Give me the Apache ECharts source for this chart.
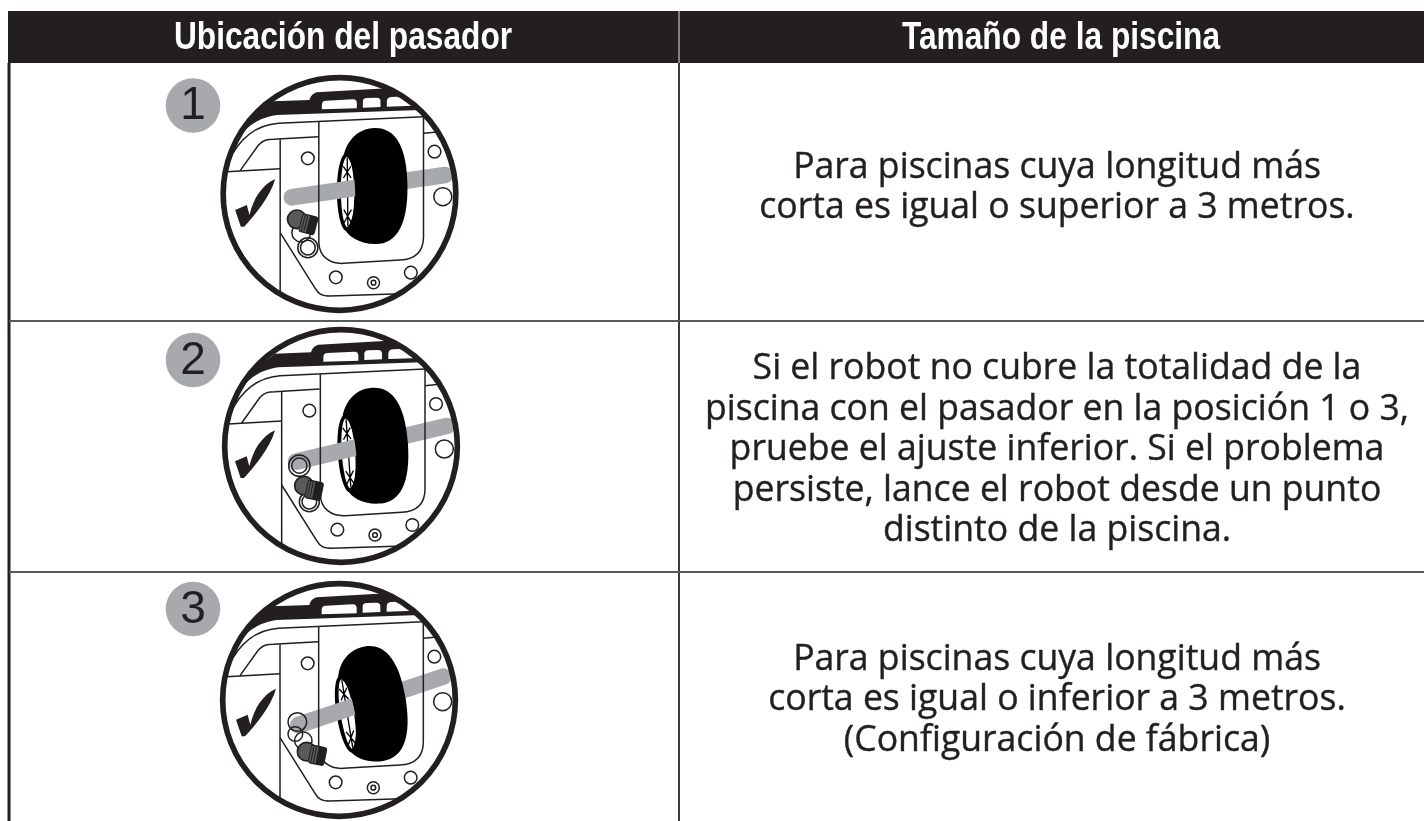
<!DOCTYPE html>
<html>
<head>
<meta charset="utf-8">
<title>Ubicación del pasador</title>
<style>
  html, body { margin: 0; padding: 0; background: #fff; }
  #chart { width: 1424px; height: 821px; }
</style>
<script src="https://cdn.jsdelivr.net/npm/echarts@6/dist/echarts.min.js"></script>
</head>
<body>
<div id="chart"></div>
<script>
const headers = ["Ubicación del pasador", "Tamaño de la piscina"];
const rowNumbers = ["1", "2", "3"];
const row1Lines = ["Para piscinas cuya longitud más", "corta es igual o superior a 3 metros."];
const row2Lines = [
    "Si el robot no cubre la totalidad de la",
    "piscina con el pasador en la posición 1 o 3,",
    "pruebe el ajuste inferior. Si el problema",
    "persiste, lance el robot desde un punto",
    "distinto de la piscina."
];
const row3Lines = [
    "Para piscinas cuya longitud más",
    "corta es igual o inferior a 3 metros.",
    "(Configuración de fábrica)"
];
const rowTexts = [row1Lines, row2Lines, row3Lines];

// layout of the table
const INK = "#231f20";
const GREY = "#a7a9ac";
const TOP = 11, HEAD_BOTTOM = 63, LEFT = 9, DIVIDER = 679;
const ROW_LINES = [321, 572];
const TEXT_FIRST_Y = [167.5, 369, 659.7];
const TEXT_CENTER = 1057, TEXT_STEP = 40.4;

// each illustration is drawn in 3x pixels, the numbers are taken from zoomed crops
// crop is the circle centre inside that row's crop
const POSES = [
    {
        cx: 339.5, cy: 194, crop: [358, 402], numberY: 105.5, body: [0, 0], check: [0, 0],
        bar: [215, 412, 675, 345], wheel: [466, 378, 0.01],
        knob: [230, 478], cap: [265, 492, -0.25],
        rings: [[243, 518, 28], [263, 563, 30], [263, 563, 22]]
    },
    {
        cx: 341, cy: 446, crop: [363, 378], numberY: 360, body: [5, -23], check: [0, -26],
        bar: [228, 425, 680, 318], wheel: [468, 377, 0.07],
        knob: [252, 497], cap: [283, 510, -0.2],
        rings: [[238, 437, 32], [238, 437, 23], [268, 545, 30], [268, 545, 22]]
    },
    {
        cx: 339, cy: 700, crop: [357, 360], numberY: 609, body: [0, -45], check: [3, -31],
        bar: [235, 435, 670, 290], wheel: [462, 371, 0.16],
        knob: [260, 515], cap: [293, 525, -0.2],
        rings: [[232, 426, 28], [226, 462, 22], [250, 482, 26]]
    }
];

const BAND = "M20,285 C60,215 100,175 170,165 L600,150 L640,140 L560,100 L500,85 L290,97 C278,100 270,110 268,120 L160,124 L20,230 Z";
const WINDOWS = [
    "M305,148 L305,135 Q305,122 318,122 L398,118 Q410,118 410,130 L410,145 Z",
    "M428,143 L428,125 Q428,114 440,114 L470,113 Q481,113 481,124 L481,141 Z",
    "M500,140 L500,125 Q500,111 515,111 L620,105 L620,136 Z"
];
const BODY_LINES = [
    "M25,305 C60,230 110,195 175,190 L610,170",
    "M296,186 L296,545 C296,590 330,612 370,610 L540,600 C590,597 610,570 610,530 L610,170",
    "M60,332 L115,255 C130,240 140,238 160,238 L294,230",
    "M20,335 L180,326",
    "M180,238 L180,730",
    "M180,518 L285,685 C295,702 305,708 330,708 L640,698",
    "M610,220 L660,215"
];
const BODY_HOLES = [[643, 275, 19], [263, 295, 19], [668, 410, 27], [347, 652, 19], [572, 638, 19], [460, 668, 18], [460, 668, 7]];
const CHECK = "M165,357 C125,375 100,415 88,465 L80,435 L45,450 L62,500 L72,500 C105,465 150,410 165,357 Z";
const TREAD = "M0,-174 C-55,-174 -88,-130 -95,-88 C-75,-100 -61,-40 -61,15 C-61,70 -75,130 -95,125 C-85,150 -50,174 0,174 C60,174 96,120 96,0 C96,-120 60,-174 0,-174 Z";
const SPOKES = "M-84,-85 L-84,120 M-96,-60 L-73,-25 M-73,-60 L-96,-25 M-96,70 L-73,110 M-73,70 L-96,110";

function path(d, fill, stroke, width) {
    return { type: "path", shape: { pathData: d }, style: { fill: fill || "none", stroke: stroke || "none", lineWidth: width || 0 } };
}

function hole(h, fill) {
    return { type: "circle", shape: { cx: h[0], cy: h[1], r: h[2] }, style: { fill: fill || "none", stroke: INK, lineWidth: 4.5 } };
}

function drawBody(pose) {
    const kids = [path(BAND, INK)];
    WINDOWS.forEach(w => kids.push(path(w, "#fff")));
    BODY_LINES.forEach(l => kids.push(path(l, "none", INK, 4.5)));
    BODY_HOLES.forEach(h => kids.push(hole(h)));
    return { type: "group", x: pose.body[0], y: pose.body[1], children: kids };
}

function drawIllustration(pose) {
    const localX = pose.crop[0], localY = pose.crop[1];
    const w = pose.wheel;
    const bar = pose.bar;
    const hub = {
        type: "group", x: w[0], y: w[1], rotation: w[2],
        children: [
            { type: "ellipse", shape: { cx: -88, cy: 18, rx: 28, ry: 116 }, style: { fill: "#000" } },
            { type: "ellipse", shape: { cx: -84, cy: 18, rx: 20, ry: 106 }, style: { fill: "#fff" } },
            path(SPOKES, "none", "#000", 4)
        ]
    };
    const inner = [
        hub,
        { type: "line", shape: { x1: bar[0], y1: bar[1], x2: bar[2], y2: bar[3] }, style: { stroke: GREY, lineWidth: 50, lineCap: "round" } },
        drawBody(pose)
    ];
    pose.rings.forEach(r => inner.push(hole(r, "none")));
    inner.push(
        { type: "group", x: w[0], y: w[1], rotation: w[2], children: [path(TREAD, "#000")] },
        { type: "group", x: pose.check[0], y: pose.check[1], children: [path(CHECK, INK)] },
        { type: "circle", shape: { cx: pose.knob[0], cy: pose.knob[1], r: 28 }, style: { fill: "#58595b", stroke: INK, lineWidth: 5 } },
        {
            type: "group", x: pose.cap[0], y: pose.cap[1], rotation: pose.cap[2],
            children: [
                { type: "rect", shape: { x: -25, y: -28, width: 50, height: 58, r: 9 }, style: { fill: INK } },
                { type: "rect", shape: { x: -22, y: -24, width: 22, height: 50, r: 3 }, style: { fill: "#58595b" } },
                path("M-16,-24 L-16,26 M-8,-24 L-8,26 M0,-24 L0,26", "none", INK, 3)
            ]
        }
    );
    return {
        type: "group",
        x: pose.cx - localX / 3, y: pose.cy - localY / 3, scaleX: 1 / 3, scaleY: 1 / 3,
        children: [
            { type: "circle", shape: { cx: localX, cy: localY, r: 350 }, style: { fill: "#fff" } },
            {
                type: "group",
                clipPath: { type: "circle", shape: { cx: localX, cy: localY, r: 350 } },
                children: inner
            },
            { type: "circle", shape: { cx: localX, cy: localY, r: 349 }, style: { fill: "none", stroke: INK, lineWidth: 17 } }
        ]
    };
}

function renderRow(params) {
    const i = params.dataIndex;
    const pose = POSES[i];
    const kids = [
        { type: "circle", shape: { cx: 193, cy: pose.numberY, r: 27.3 }, style: { fill: GREY } },
        {
            type: "text", x: 193, y: pose.numberY + 1,
            style: { text: rowNumbers[i], fontFamily: "Liberation Sans", fontSize: 46, fill: INK, align: "center", verticalAlign: "middle" }
        },
        drawIllustration(pose)
    ];
    rowTexts[i].forEach((line, n) => {
        kids.push({
            type: "text", x: TEXT_CENTER, y: TEXT_FIRST_Y[i] + n * TEXT_STEP, scaleX: 0.975,
            style: { text: line, fontFamily: "Open Sans", fontSize: 36.5, fill: INK, stroke: INK, lineWidth: 0.4, align: "center", verticalAlign: "middle" }
        });
    });
    return { type: "group", children: kids };
}

const frameLines = [
    [LEFT, HEAD_BOTTOM, LEFT, 821, 3, INK],
    [DIVIDER, HEAD_BOTTOM, DIVIDER, 821, 2, "#3a3a3c"],
    [LEFT, ROW_LINES[0], 1424, ROW_LINES[0], 2, "#58595b"],
    [LEFT, ROW_LINES[1], 1424, ROW_LINES[1], 2, "#58595b"]
].map(l => ({
    type: "line", shape: { x1: l[0], y1: l[1], x2: l[2], y2: l[3] }, style: { stroke: l[5], lineWidth: l[4] }, silent: true
}));

const headerParts = [
    { type: "rect", shape: { x: 8, y: TOP, width: 1416, height: HEAD_BOTTOM - TOP }, style: { fill: INK } },
    { type: "line", shape: { x1: DIVIDER, y1: TOP, x2: DIVIDER, y2: HEAD_BOTTOM }, style: { stroke: "#e6e6e6", lineWidth: 1 } },
    {
        type: "text", x: 343, y: 39, scaleX: 0.834,
        style: { text: headers[0], fontFamily: "Liberation Sans", fontWeight: "bold", fontSize: 38, fill: "#fff", align: "center", verticalAlign: "middle" }
    },
    {
        type: "text", x: 1061, y: 39, scaleX: 0.834,
        style: { text: headers[1], fontFamily: "Liberation Sans", fontWeight: "bold", fontSize: 38, fill: "#fff", align: "center", verticalAlign: "middle" }
    }
];

const chart = echarts.init(document.getElementById("chart"), null, { renderer: "canvas" });
chart.setOption({
    animation: false,
    backgroundColor: "#fff",
    graphic: { elements: headerParts.concat(frameLines) },
    series: [{
        type: "custom",
        coordinateSystem: "none",
        silent: true,
        data: rowNumbers.map((n, i) => i),
        renderItem: renderRow
    }]
});
</script>
</body>
</html>
